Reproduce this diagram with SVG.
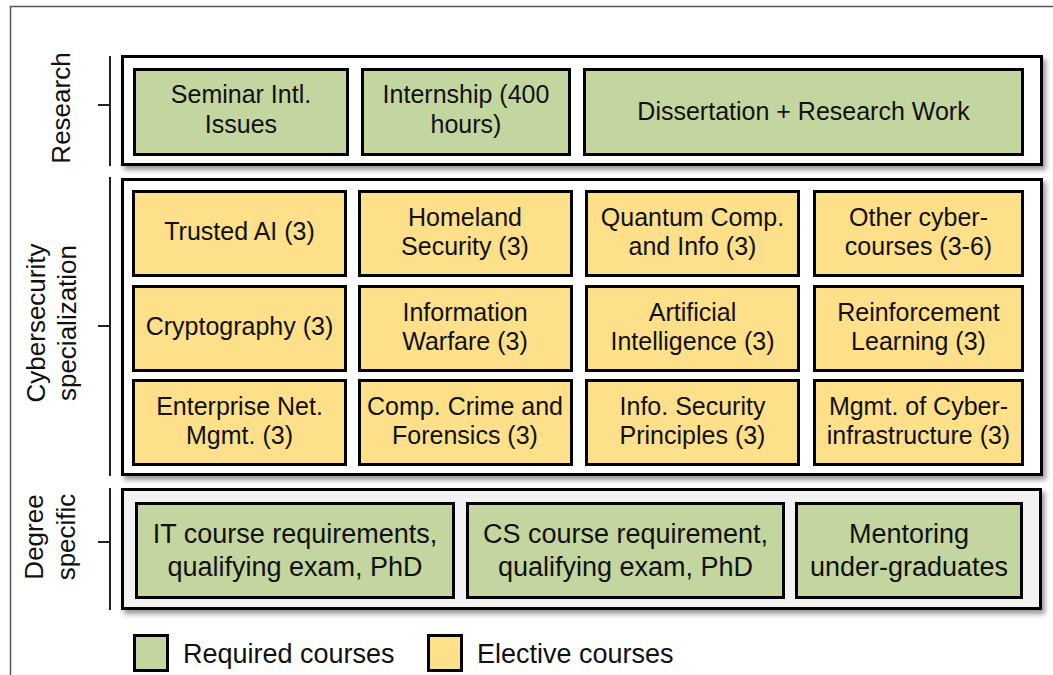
<svg xmlns="http://www.w3.org/2000/svg" width="1053" height="675" viewBox="0 0 1053 675">
<defs>
<filter id="sh" x="-5%" y="-10%" width="112%" height="130%">
<feDropShadow dx="3" dy="4" stdDeviation="2.5" flood-color="#000" flood-opacity="0.4"/>
</filter>
<style>
.grp{fill:#fff;stroke:#000;stroke-width:3;filter:url(#sh)}
.req{fill:#c4d6a0;stroke:#000;stroke-width:3}
.ele{fill:#fedf8a;stroke:#000;stroke-width:3}
.t{font-family:"Liberation Sans",Arial,sans-serif;font-size:25px;fill:#111;text-anchor:middle}
.d{font-size:27px}
.ax{font-family:"Liberation Sans",Arial,sans-serif;font-size:26px;fill:#111;text-anchor:middle}
.lg{font-family:"Liberation Sans",Arial,sans-serif;font-size:27px;fill:#111}
.axl{stroke:#222;stroke-width:2;fill:none}
</style>
</defs>
<rect width="1053" height="675" fill="#fff"/>
<path d="M1053 6.5 H10.5 V675" fill="none" stroke="#555" stroke-width="1.5"/>

<g id="axes">
<path class="axl" d="M110 56 V166 M98 105 H110"/>
<path class="axl" d="M110 177 V476 M98 326 H110"/>
<path class="axl" d="M110 488 V610 M98 542 H110"/>
<text class="ax" transform="translate(70,108) rotate(-90)">Research</text>
<text class="ax" transform="translate(45,323) rotate(-90)">Cybersecurity</text>
<text class="ax" transform="translate(76,323) rotate(-90)">specialization</text>
<text class="ax" transform="translate(43,537) rotate(-90)">Degree</text>
<text class="ax" transform="translate(75,537) rotate(-90)">specific</text>
</g>

<g id="group-research"><rect class="grp" x="122.5" y="56.5" width="919" height="108"/></g>
<g id="group-cyber"><rect class="grp" x="122.5" y="179.5" width="919" height="295"/></g>
<g id="group-degree"><rect class="grp" style="fill:#f2f2f2" x="122.5" y="489.5" width="918" height="119"/></g>

<g id="connectors"></g>

<g id="seminar"><rect class="req" x="134.5" y="69.5" width="213" height="85"/>
<text class="t" x="241" y="103">Seminar Intl.<tspan x="241" dy="30">Issues</tspan></text></g>
<g id="internship"><rect class="req" x="362.5" y="69.5" width="207" height="85"/>
<text class="t" x="466" y="103">Internship (400<tspan x="466" dy="30">hours)</tspan></text></g>
<g id="dissertation"><rect class="req" x="584.5" y="69.5" width="438" height="85"/>
<text class="t" x="803.5" y="120">Dissertation + Research Work</text></g>

<g id="trusted-ai"><rect class="ele" x="133.5" y="191.5" width="212" height="84"/>
<text class="t" x="239.5" y="240">Trusted AI (3)</text></g>
<g id="homeland"><rect class="ele" x="359.5" y="191.5" width="212" height="84"/>
<text class="t" x="465" y="226">Homeland<tspan x="465" dy="29">Security (3)</tspan></text></g>
<g id="quantum"><rect class="ele" x="586.5" y="191.5" width="212" height="84"/>
<text class="t" x="692.5" y="226">Quantum Comp.<tspan x="692.5" dy="29">and Info (3)</tspan></text></g>
<g id="other-cyber"><rect class="ele" x="814.5" y="191.5" width="208" height="84"/>
<text class="t" x="918.5" y="226">Other cyber-<tspan x="918.5" dy="29">courses (3-6)</tspan></text></g>

<g id="cryptography"><rect class="ele" x="133.5" y="286.5" width="212" height="84"/>
<text class="t" x="239.5" y="335">Cryptography (3)</text></g>
<g id="info-warfare"><rect class="ele" x="359.5" y="286.5" width="212" height="84"/>
<text class="t" x="465" y="321">Information<tspan x="465" dy="29">Warfare (3)</tspan></text></g>
<g id="ai"><rect class="ele" x="586.5" y="286.5" width="212" height="84"/>
<text class="t" x="692.5" y="321">Artificial<tspan x="692.5" dy="29">Intelligence (3)</tspan></text></g>
<g id="rl"><rect class="ele" x="814.5" y="286.5" width="208" height="84"/>
<text class="t" x="918.5" y="321">Reinforcement<tspan x="918.5" dy="29">Learning (3)</tspan></text></g>

<g id="enterprise"><rect class="ele" x="133.5" y="380.5" width="212" height="84"/>
<text class="t" x="239.5" y="415">Enterprise Net.<tspan x="239.5" dy="29">Mgmt. (3)</tspan></text></g>
<g id="crime"><rect class="ele" x="359.5" y="380.5" width="212" height="84"/>
<text class="t" x="465" y="415">Comp. Crime and<tspan x="465" dy="29">Forensics (3)</tspan></text></g>
<g id="infosec"><rect class="ele" x="586.5" y="380.5" width="212" height="84"/>
<text class="t" x="692.5" y="415">Info. Security<tspan x="692.5" dy="29">Principles (3)</tspan></text></g>
<g id="cyberinfra"><rect class="ele" x="814.5" y="380.5" width="208" height="84"/>
<text class="t" x="918.5" y="415">Mgmt. of Cyber-<tspan x="918.5" dy="29">infrastructure (3)</tspan></text></g>

<g id="it-req"><rect class="req" x="136.5" y="503.5" width="317" height="94"/>
<text class="t d" x="295" y="543">IT course requirements,<tspan x="295" dy="33">qualifying exam, PhD</tspan></text></g>
<g id="cs-req"><rect class="req" x="467.5" y="503.5" width="316" height="94"/>
<text class="t d" x="625.5" y="543">CS course requirement,<tspan x="625.5" dy="33">qualifying exam, PhD</tspan></text></g>
<g id="mentoring"><rect class="req" x="796.5" y="503.5" width="225" height="94"/>
<text class="t d" x="909" y="543">Mentoring<tspan x="909" dy="33">under-graduates</tspan></text></g>

<g id="legend">
<rect class="req" x="134.5" y="635.5" width="33" height="35"/>
<text class="lg" x="183" y="663">Required courses</text>
<rect class="ele" x="428.5" y="635.5" width="33" height="35"/>
<text class="lg" x="477" y="663">Elective courses</text>
</g>
</svg>
